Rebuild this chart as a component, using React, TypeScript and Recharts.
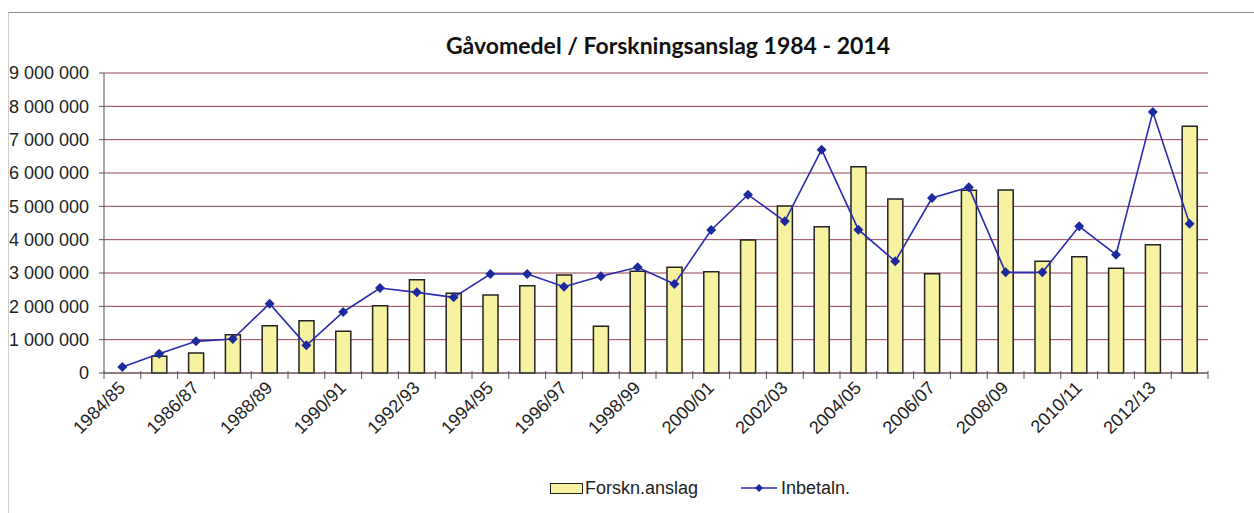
import React from 'react';
import {
  ComposedChart,
  Bar,
  Line,
  XAxis,
  YAxis,
  CartesianGrid,
  Legend,
} from 'recharts';

const years = [
  '1984/85', '1985/86', '1986/87', '1987/88', '1988/89', '1989/90', '1990/91', '1991/92',
  '1992/93', '1993/94', '1994/95', '1995/96', '1996/97', '1997/98', '1998/99', '1999/00',
  '2000/01', '2001/02', '2002/03', '2003/04', '2004/05', '2005/06', '2006/07', '2007/08',
  '2008/09', '2009/10', '2010/11', '2011/12', '2012/13', '2013/14',
];

// Forskn.anslag (bars)
const anslag = [
  0, 500000, 600000, 1150000, 1420000, 1570000, 1250000, 2020000,
  2800000, 2390000, 2340000, 2620000, 2940000, 1400000, 3050000, 3170000,
  3040000, 3990000, 5010000, 4390000, 6190000, 5220000, 2980000, 5480000,
  5490000, 3350000, 3490000, 3140000, 3850000, 7400000,
];

// Inbetaln. (line)
const inbetaln = [
  180000, 580000, 950000, 1020000, 2080000, 830000, 1830000, 2550000,
  2420000, 2270000, 2970000, 2970000, 2590000, 2900000, 3170000, 2670000,
  4290000, 5350000, 4550000, 6700000, 4300000, 3350000, 5250000, 5570000,
  3020000, 3020000, 4400000, 3550000, 7830000, 4480000,
];

const yTicks = [0, 1000000, 2000000, 3000000, 4000000, 5000000, 6000000, 7000000, 8000000, 9000000];

const data = years.map((y, i) => ({ year: y, anslag: anslag[i] || null, inbetaln: inbetaln[i] }));

const W = 1254;
const H = 513;
const M = { top: 73, right: 46, left: 0, bottom: 12 };
const Y_W = 104;
const BAND = (W - M.left - M.right - Y_W) / years.length;
const FONT = "'Liberation Sans', Arial, sans-serif";

const fmt = (v: number) => String(v).replace(/\B(?=(\d{3})+(?!\d))/g, ' ');

const XTick = (props: any) => {
  const { x, y, payload, index } = props;
  const axisY = y - 6;
  const left = x - BAND / 2;
  return (
    <g>
      <line x1={left} y1={axisY - 2} x2={left} y2={axisY + 6} stroke="#555" />
      {index === years.length - 1 && (
        <line x1={x + BAND / 2} y1={axisY - 2} x2={x + BAND / 2} y2={axisY + 6} stroke="#555" />
      )}
      {index % 2 === 0 && (
        <text
          x={x + 4}
          y={axisY + 16}
          textAnchor="end"
          transform={`rotate(-45 ${x + 4} ${axisY + 16})`}
          fontSize={18}
          fill="#222"
          fontFamily={FONT}
        >
          {payload.value}
        </text>
      )}
    </g>
  );
};

const Diamond = (props: any) => {
  const { cx, cy } = props;
  if (cx == null || cy == null) return null;
  const r = 5;
  return (
    <polygon
      points={`${cx},${cy - r} ${cx + r},${cy} ${cx},${cy + r} ${cx - r},${cy}`}
      fill="#1c2a9e"
    />
  );
};

const LegendBox = () => (
  <div
    style={{
      display: 'flex',
      alignItems: 'center',
      fontFamily: FONT,
      fontSize: 18,
      color: '#222',
      height: 24,
    }}
  >
    <span
      style={{
        display: 'inline-block',
        width: 31,
        height: 9,
        background: '#f7f2a0',
        border: '1.5px solid #222',
        marginRight: 2,
      }}
    />
    <span>Forskn.anslag</span>
    <svg width={36} height={12} style={{ marginLeft: 43, marginRight: 4 }}>
      <line x1={0} y1={6} x2={36} y2={6} stroke="#2b2bb0" strokeWidth={1.6} />
      <polygon points="18,2 22,6 18,10 14,6" fill="#1c2a9e" />
    </svg>
    <span>Inbetaln.</span>
  </div>
);

export default function App() {
  return (
    <div style={{ position: 'absolute', left: 0, top: 0, width: W, height: H, background: '#fff' }}>
      <div
        style={{
          position: 'absolute',
          left: 8,
          top: 12,
          width: W,
          height: H,
          borderTop: '1px solid #8a8a9a',
          borderLeft: '1px solid #cfcfcf',
        }}
      />
      <div
        style={{
          position: 'absolute',
          left: 0,
          width: W,
          top: 31,
          textAlign: 'center',
          paddingLeft: 82,
          boxSizing: 'border-box',
          fontFamily: "Lato, 'Open Sans', sans-serif",
          fontWeight: 700,
          fontSize: 23,
          color: '#111',
        }}
      >
        Gåvomedel / Forskningsanslag 1984 - 2014
      </div>
      <ComposedChart width={W} height={H} data={data} margin={M}>
        <CartesianGrid vertical={false} stroke="#8b3040" strokeOpacity={0.9} />
        <XAxis
          dataKey="year"
          interval={0}
          tickLine={false}
          tickSize={6}
          tickMargin={0}
          height={104}
          stroke="#555"
          tick={<XTick />}
        />
        <YAxis
          width={Y_W}
          domain={[0, 9000000]}
          ticks={yTicks}
          tickFormatter={fmt}
          tickSize={5}
          tickMargin={10}
          stroke="#555"
          tick={{ fontSize: 18, fill: '#222', fontFamily: FONT }}
        />
        <Bar
          dataKey="anslag"
          name="Forskn.anslag"
          barSize={15}
          fill="#f7f2a0"
          stroke="#222"
          strokeWidth={1.5}
          isAnimationActive={false}
        />
        <Line
          dataKey="inbetaln"
          name="Inbetaln."
          stroke="#2b2bb0"
          strokeWidth={1.6}
          dot={<Diamond />}
          activeDot={false}
          isAnimationActive={false}
        />
        <Legend
          verticalAlign="bottom"
          content={<LegendBox />}
          wrapperStyle={{ left: 550, width: 400, height: 24, bottom: 13 }}
        />
      </ComposedChart>
    </div>
  );
}
